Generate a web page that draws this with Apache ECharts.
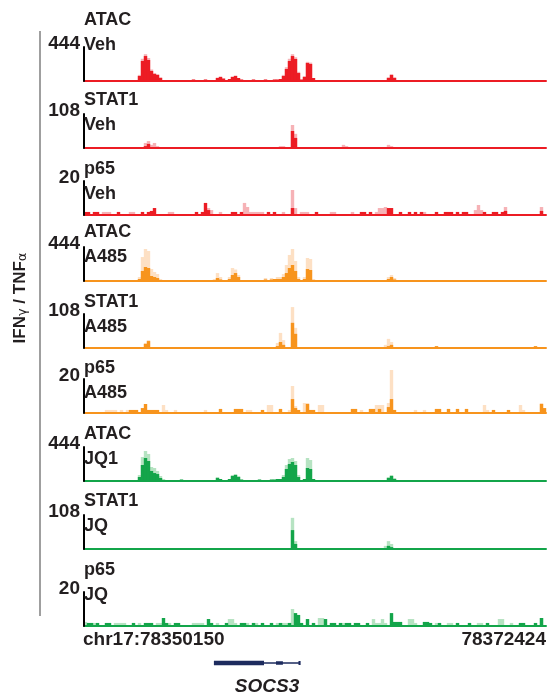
<!DOCTYPE html>
<html><head><meta charset="utf-8">
<script src="https://cdn.jsdelivr.net/npm/echarts@6/dist/echarts.min.js"></script>
<style>html,body{margin:0;padding:0;background:#fff}#c{width:556px;height:696px}</style>
</head><body><div id="c"></div>
<script>
// ---- data: [bin index, signal] (bins across chr17:78350150-78372424) ----
const trackNames = ['ATAC','STAT1','p65','ATAC','STAT1','p65','ATAC','STAT1','p65'];
const trackConds = ['Veh','Veh','Veh','A485','A485','A485','JQ1','JQ','JQ'];
const trackScales = [444,108,20,444,108,20,444,108,20];
const regionStart = 'chr17:78350150';
const regionEnd = '78372424';
const geneName = 'SOCS3';
// gene model in bin units: [start, end, part]
const geneParts = [[42.8,59.5,'cds'],[59.5,71.5,'intron'],[63.5,65.8,'exon'],[71.0,71.7,'tick']];

const atacVehDark = [[16,7],[17,13],[18,65],[19,261],[20,326],[21,274],[22,131],[23,91],[24,78],[25,39],[26,13],[28,13],[30,13],[33,13],[36,20],[38,13],[40,20],[42,13],[43,13],[44,39],[45,52],[46,33],[47,13],[48,26],[49,52],[50,65],[51,39],[52,20],[54,13],[56,20],[58,13],[60,20],[62,13],[63,20],[64,20],[65,26],[66,65],[67,157],[68,261],[69,326],[70,287],[71,104],[72,20],[73,52],[74,235],[75,222],[76,39],[78,13],[81,13],[86,13],[95,13],[100,13],[101,39],[102,78],[103,39],[104,13],[110,7],[125,7]];
const atacVehLight = [[18,80],[19,290],[20,350],[21,300],[22,150],[23,105],[24,90],[25,50],[44,45],[45,60],[49,60],[50,72],[66,80],[67,180],[68,290],[69,350],[70,310],[71,120],[73,65],[74,250],[75,240],[101,50],[102,90],[103,50]];

const stat1VehDark = [[20,6],[21,13],[22,3],[23,3],[30,3],[40,3],[50,3],[60,3],[65,3],[66,3],[69,54],[70,32],[72,3],[80,3],[86,3],[95,3],[101,3],[102,3],[110,3],[120,3],[130,3],[140,3],[150,3]];
const stat1VehLight = [[20,16],[21,22],[22,10],[23,16],[24,6],[65,6],[66,6],[69,73],[70,45],[86,10],[87,6],[101,10],[102,6],[124,3]];

const p65VehDark = [[0,1.8],[1,1.8],[3,1.8],[4,1.8],[11,1.8],[19,1.8],[21,1.8],[22,2.4],[23,4.1],[37,1.8],[39,1.8],[40,7.1],[41,2.9],[49,1.8],[50,1.8],[52,1.8],[61,1.8],[63,1.8],[69,4.1],[77,1.8],[92,1.8],[93,1.8],[95,1.8],[101,4.1],[102,4.1],[105,1.8],[108,1.8],[110,1.8],[112,1.8],[117,1.8],[120,1.8],[121,1.8],[122,1.8],[124,1.8],[126,1.8],[127,1.8],[133,1.8],[136,1.8],[137,1.8],[139,1.8],[140,2.4],[152,2.4]];
const p65VehLight = [[6,1.8],[7,1.8],[8,1.8],[15,1.8],[16,1.8],[28,1.8],[29,1.8],[41,4.1],[42,2.9],[45,1.8],[53,7.1],[54,4.7],[55,1.8],[56,1.8],[57,1.8],[58,1.8],[59,1.8],[66,1.8],[69,14.7],[70,4.1],[72,1.8],[73,1.8],[74,1.8],[82,1.8],[83,1.8],[89,1.8],[97,1.8],[98,4.1],[99,4.1],[100,4.7],[113,1.8],[130,2.9],[131,5.9],[132,2.9],[140,4.7],[152,4.7]];

const atacA485Dark = [[18,26],[19,131],[20,183],[21,170],[22,65],[23,52],[24,39],[25,13],[28,7],[32,7],[36,7],[40,7],[43,13],[44,39],[45,20],[48,26],[49,78],[50,104],[51,52],[52,13],[55,7],[58,13],[60,20],[61,13],[62,20],[63,26],[64,26],[65,26],[66,52],[67,104],[68,170],[69,209],[70,131],[71,26],[73,26],[74,157],[75,144],[76,13],[86,7],[101,26],[102,52],[103,20],[115,7],[130,7]];
const atacA485Light = [[18,52],[19,313],[20,418],[21,392],[22,157],[23,118],[24,91],[25,26],[43,26],[44,104],[45,52],[48,52],[49,170],[50,150],[51,78],[60,39],[62,39],[64,52],[65,52],[66,91],[67,209],[68,340],[69,418],[70,261],[71,52],[73,52],[74,300],[75,287],[76,26],[101,52],[102,78],[103,39]];

const stat1A485Dark = [[1,3],[4,3],[7,3],[10,3],[13,3],[15,3],[20,13],[21,22],[22,3],[28,3],[31,3],[33,3],[42,3],[47,3],[48,3],[53,3],[57,3],[64,6],[65,19],[66,10],[69,80],[70,45],[72,3],[74,3],[76,3],[79,3],[84,3],[100,3],[101,6],[102,10],[110,3],[117,6],[125,3],[131,3],[138,3],[142,3],[150,6],[152,3]];
const stat1A485Light = [[20,16],[21,25],[64,16],[65,48],[66,25],[69,130],[70,64],[100,10],[101,29],[102,19],[135,3]];

const p65A485Dark = [[15,1.8],[16,1.8],[17,1.8],[19,2.9],[20,5.3],[21,1.8],[22,1.8],[23,1.8],[24,1.8],[45,2.4],[50,2.4],[51,2.4],[52,2.4],[59,1.8],[65,2.4],[69,8.2],[70,2.9],[71,1.8],[74,5.3],[75,1.8],[76,1.8],[89,2.4],[90,2.4],[95,2.4],[96,2.4],[98,2.4],[101,3.5],[102,8.2],[103,1.8],[117,2.4],[118,2.4],[121,2.4],[124,2.4],[127,2.4],[136,1.8],[141,1.8],[152,5.3],[153,2.9]];
const p65A485Light = [[7,1.8],[8,1.8],[9,1.8],[10,1.8],[12,1.8],[14,1.8],[26,4.7],[27,1.8],[30,1.8],[40,1.8],[54,1.8],[55,1.8],[61,4.7],[62,4.7],[68,1.8],[69,15.9],[70,4.1],[73,5.9],[74,5.9],[78,4.7],[79,4.7],[92,1.8],[97,4.7],[98,4.7],[99,4.7],[101,5.9],[102,25.3],[110,1.8],[113,1.8],[133,4.7],[134,1.8],[145,4.7],[146,1.8],[152,5.9]];

const atacJQ1Dark = [[17,13],[18,52],[19,209],[20,300],[21,261],[22,131],[23,104],[24,91],[25,39],[26,13],[28,13],[30,13],[32,20],[34,13],[36,13],[38,13],[40,13],[42,13],[44,39],[45,26],[47,13],[48,26],[49,65],[50,78],[51,52],[52,20],[54,13],[56,13],[58,20],[60,13],[62,20],[63,20],[64,26],[65,26],[66,52],[67,157],[68,222],[69,248],[70,209],[71,52],[72,13],[73,26],[74,170],[75,157],[76,26],[78,13],[82,13],[86,13],[90,13],[95,13],[100,13],[101,39],[102,65],[103,26],[104,13],[110,7],[120,7],[130,7]];
const atacJQ1Light = [[18,78],[19,313],[20,392],[21,353],[22,183],[23,170],[24,131],[25,65],[26,26],[44,52],[49,78],[50,91],[51,65],[66,78],[67,209],[68,287],[69,300],[70,261],[71,78],[74,300],[75,274],[101,52],[102,78],[103,39]];

const stat1JQDark = [[10,3],[14,3],[16,3],[18,3],[19,3],[20,3],[21,3],[22,3],[23,3],[26,3],[30,3],[35,3],[40,3],[45,3],[49,3],[52,3],[56,3],[60,3],[64,3],[66,3],[69,60],[70,16],[72,3],[74,3],[78,3],[82,3],[86,3],[90,3],[95,3],[100,3],[101,10],[102,6],[105,3],[110,3],[115,3],[120,3],[125,3],[130,3],[135,3],[140,3],[145,3],[150,3]];
const stat1JQLight = [[69,99],[70,25],[100,10],[101,25],[102,16]];

const p65JQDark = [[1,1.8],[2,1.8],[4,1.8],[7,1.8],[8,1.8],[16,1.8],[20,1.8],[21,1.8],[22,1.8],[26,4.7],[27,1.8],[30,1.8],[31,1.8],[41,4.1],[42,1.8],[47,1.8],[52,1.8],[53,1.8],[56,1.8],[59,1.8],[62,1.8],[65,1.8],[68,1.8],[70,7.6],[71,6.5],[72,1.8],[74,4.1],[76,1.8],[80,4.1],[82,1.8],[83,1.8],[85,1.8],[87,1.8],[88,1.8],[90,1.8],[91,1.8],[94,1.8],[102,7.6],[103,2.4],[104,2.4],[105,2.4],[113,2.4],[114,2.4],[115,1.8],[118,1.8],[124,1.8],[128,1.8],[134,1.8],[145,1.8],[146,1.8],[150,1.8],[152,4.7]];
const p65JQLight = [[0,2.4],[3,1.8],[10,1.8],[11,1.8],[12,1.8],[13,1.8],[18,1.8],[24,1.8],[25,1.8],[28,1.8],[36,1.8],[37,1.8],[38,1.8],[39,1.8],[44,1.8],[48,4.1],[49,4.1],[50,1.8],[54,1.8],[57,1.8],[64,1.8],[66,1.8],[67,1.8],[69,10],[78,4.7],[79,4.7],[86,1.8],[96,4.1],[97,1.8],[98,1.8],[99,4.1],[100,1.8],[108,4.1],[109,4.1],[110,1.8],[117,1.8],[121,1.8],[122,1.8],[131,1.8],[132,1.8],[138,4.1],[139,4.1],[142,1.8],[152,4.7]];

const darkData = [atacVehDark, stat1VehDark, p65VehDark, atacA485Dark, stat1A485Dark, p65A485Dark, atacJQ1Dark, stat1JQDark, p65JQDark];
const lightData = [atacVehLight, stat1VehLight, p65VehLight, atacA485Light, stat1A485Light, p65A485Light, atacJQ1Light, stat1JQLight, p65JQLight];

// ---- layout / style ----
const FONT = '"Liberation Sans", Arial, Helvetica, sans-serif';
const TXT = '#231f20';
const baselines = [81,148,215,281,348,413,481,549,626];
const labelTops = [8,88,157,220,290,356,422,489,558];
const TRACK_H = 34, LEFT = 84, WIDTH = 462;
const darkColors = ['#ec1c24','#ec1c24','#ec1c24','#f7941d','#f7941d','#f7941d','#13a54a','#13a54a','#13a54a'];
const lightColors = ['#f6b2b6','#f6b2b6','#f6b2b6','#fde0c4','#fde0c4','#fde0c4','#b6e3c2','#b6e3c2','#b6e3c2'];
const geneH = {cds:4.5, intron:1.5, exon:3.5, tick:4};

function binRender(color) {
  return function(params, api) {
    const i = api.value(0), v = api.value(1);
    const p0 = api.coord([i - 0.5, 0]);
    const p1 = api.coord([i + 0.5, v]);
    return {type:'rect', shape:{x:p0[0] - 0.2, y:p1[1], width:p1[0] - p0[0] + 0.4, height:p0[1] - p1[1]},
      style:{fill:color}};
  };
}

const grid = [], xAxis = [], yAxis = [], series = [], graphic = [];
for (let k = 0; k < 9; k++) {
  const sc = trackScales[k];
  grid.push({left: LEFT, width: WIDTH, top: baselines[k] - TRACK_H, height: TRACK_H});
  xAxis.push({gridIndex:k, type:'value', min:-0.5, max:153.5, z:5,
    axisLine:{show:true, onZero:true, lineStyle:{color:darkColors[k], width:2}},
    axisTick:{show:false}, axisLabel:{show:false}, splitLine:{show:false}});
  yAxis.push({gridIndex:k, type:'value', min:0, max:sc, interval:sc, z:6,
    axisLine:{show:true, onZero:false, lineStyle:{color:'#000', width:2}},
    axisTick:{show:false}, splitLine:{show:false}, axisLabel:{show:false}});
  const common = {type:'custom', xAxisIndex:k, yAxisIndex:k, clip:false, silent:true, animation:false};
  series.push(Object.assign({}, common, {name:trackNames[k]+' '+trackConds[k]+' rep', data:lightData[k], renderItem:binRender(lightColors[k])}));
  series.push(Object.assign({}, common, {name:trackNames[k]+' '+trackConds[k], data:darkData[k], renderItem:binRender(darkColors[k])}));
  graphic.push({type:'text', left: LEFT, top: labelTops[k], z:10,
    style:{text: trackNames[k] + '\n' + trackConds[k], fill:TXT, font:'bold 18px ' + FONT, lineHeight:25}});
  graphic.push({type:'text', x: LEFT - 4, y: baselines[k] - TRACK_H - 3, z:10,
    style:{text: String(sc), fill:TXT, font:'bold 19px ' + FONT, textAlign:'right', textVerticalAlign:'middle'}});
}
// gene track
grid.push({left: LEFT, width: WIDTH, top: 655, height: 16});
xAxis.push({gridIndex:9, type:'value', min:-0.5, max:153.5, show:false});
yAxis.push({gridIndex:9, type:'value', min:0, max:1, show:false});
series.push({type:'custom', xAxisIndex:9, yAxisIndex:9, silent:true, animation:false,
  data: geneParts.map(p => [p[0], p[1]]),
  renderItem: function(params, api){
    const part = geneParts[params.dataIndex][2];
    const h = geneH[part];
    const p0 = api.coord([api.value(0), 0.5]);
    const p1 = api.coord([api.value(1), 0.5]);
    return {type:'rect', shape:{x:p0[0], y:p0[1]-h/2, width:p1[0]-p0[0], height:h}, style:{fill:'#1d2b5e'}};
  }});

graphic.push({type:'line', shape:{x1:40, y1:31, x2:40, y2:616}, style:{stroke:'#7f7f7f', lineWidth:1.5}});
graphic.push({type:'text', x:20, y:298, rotation:Math.PI/2,
  style:{text:'{a|IFN}{g|γ}{a| / TNF}{g|α}', textAlign:'center', textVerticalAlign:'middle',
    rich:{a:{fontSize:17, fontWeight:'bold', fontFamily:FONT, fill:TXT, color:TXT},
          g:{fontSize:13, fontFamily:'"DejaVu Sans", sans-serif', fill:TXT, color:TXT, padding:[5,0,0,0]}}}});
graphic.push({type:'text', x:83, y:640, style:{text:regionStart, fill:TXT, font:'bold 19px '+FONT, textAlign:'left', textVerticalAlign:'middle'}});
graphic.push({type:'text', x:546, y:640, style:{text:regionEnd, fill:TXT, font:'bold 19px '+FONT, textAlign:'right', textVerticalAlign:'middle'}});
graphic.push({type:'text', x:267, y:687, style:{text:geneName, fill:TXT, font:'italic bold 19px '+FONT, textAlign:'center', textVerticalAlign:'middle'}});

const chart = echarts.init(document.getElementById('c'), null, {renderer:'canvas'});
chart.setOption({animation:false, backgroundColor:'#fff', grid, xAxis, yAxis, series, graphic});
</script></body></html>
